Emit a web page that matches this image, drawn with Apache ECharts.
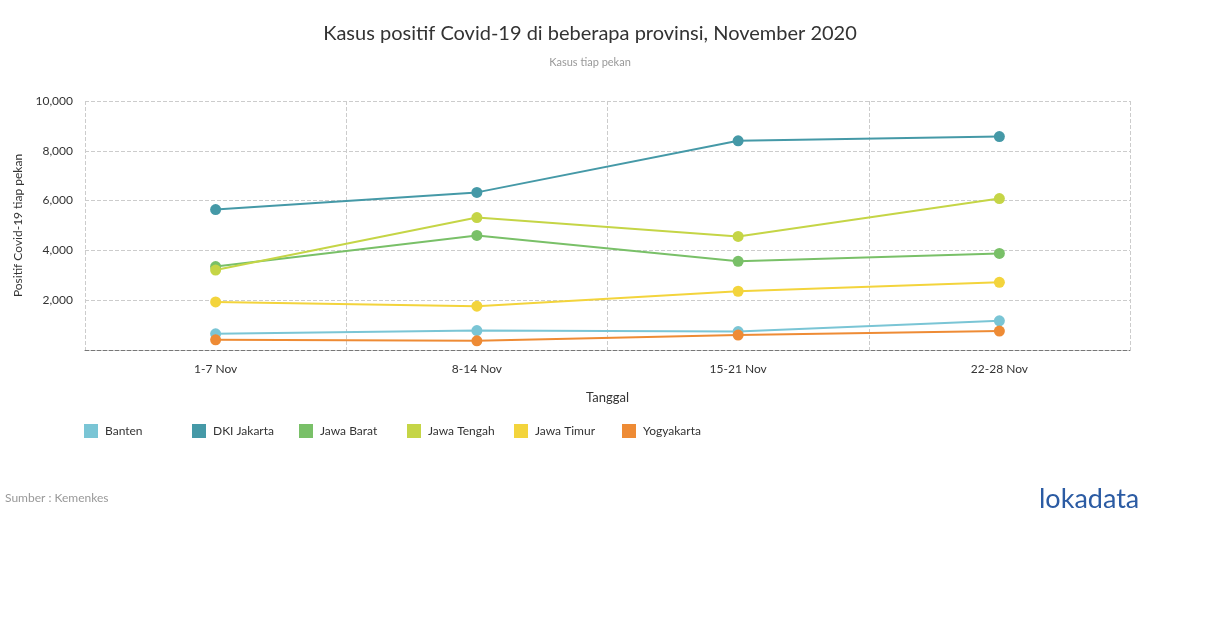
<!DOCTYPE html>
<html><head><meta charset="utf-8">
<script src="https://cdn.jsdelivr.net/npm/echarts@6/dist/echarts.min.js"></script>
<style>html,body{margin:0;padding:0;background:#fff}#c{width:1210px;height:628px}</style>
</head><body><div id="c"></div>
<script>
const categories = ['1-7 Nov', '8-14 Nov', '15-21 Nov', '22-28 Nov'];
const banten = [650, 780, 740, 1170];
const dkiJakarta = [5640, 6330, 8400, 8570];
const jawaBarat = [3350, 4600, 3560, 3880];
const jawaTengah = [3210, 5320, 4560, 6080];
const jawaTimur = [1930, 1760, 2360, 2720];
const yogyakarta = [410, 370, 600, 760];
const seriesNames = ['Banten', 'DKI Jakarta', 'Jawa Barat', 'Jawa Tengah', 'Jawa Timur', 'Yogyakarta'];
const seriesData = [banten, dkiJakarta, jawaBarat, jawaTengah, jawaTimur, yogyakarta];
const colors = ['#7AC5D5', '#4599A7', '#79C068', '#C5D546', '#F3D43C', '#EE8B35'];
const legendLeft = [84, 192, 299, 407, 514, 622];

const font = 'Lato, sans-serif';
const chart = echarts.init(document.getElementById('c'));
chart.setOption({
  animation: false,
  textStyle: { fontFamily: font },
  title: [
    { text: 'Kasus positif Covid-19 di beberapa provinsi, November 2020', left: 590, top: 24, textAlign: 'center', padding: 0,
      textStyle: { fontFamily: font, fontSize: 20, fontWeight: 'normal', color: '#333' } },
    { text: 'Kasus tiap pekan', left: 590, top: 57, textAlign: 'center', padding: 0,
      textStyle: { fontFamily: font, fontSize: 11, fontWeight: 'normal', color: '#999' } }
  ],
  legend: seriesNames.map((n, i) => ({
    data: [n], left: legendLeft[i], top: 424, padding: 0, itemWidth: 14, itemHeight: 14, icon: 'rect', itemGap: 6,
    textStyle: { fontFamily: font, fontSize: 12, color: '#333', padding: [0, 0, 0, 2] }
  })),
  grid: { left: 85, right: 80, top: 101, bottom: 278 },
  xAxis: {
    type: 'category', data: categories, boundaryGap: true,
    name: 'Tanggal', nameLocation: 'middle', nameGap: 41,
    nameTextStyle: { fontFamily: font, fontSize: 13, color: '#333' },
    axisLine: { show: true, lineStyle: { color: '#777', type: 'dashed', width: 1 } },
    axisTick: { show: false },
    axisLabel: { fontFamily: font, fontSize: 12, color: '#333', margin: 13 },
    splitLine: { show: true, lineStyle: { color: '#ccc', type: 'dashed' } }
  },
  yAxis: {
    type: 'value', min: 0, max: 10000, interval: 2000,
    name: 'Positif Covid-19 tiap pekan', nameLocation: 'middle', nameGap: 59, nameRotate: 90,
    nameTextStyle: { fontFamily: font, fontSize: 12, color: '#333' },
    axisLine: { show: false }, axisTick: { show: false },
    axisLabel: { fontFamily: font, fontSize: 12, color: '#333', margin: 12,
      formatter: v => v === 0 ? '' : v.toLocaleString('en-US') },
    splitLine: { show: true, lineStyle: { color: '#ccc', type: 'dashed' } }
  },
  series: seriesNames.map((n, i) => ({
    name: n, type: 'line', data: seriesData[i], color: colors[i],
    symbol: 'circle', symbolSize: 11, lineStyle: { width: 2 }
  })),
  graphic: [
    { type: 'text', left: 5, top: 492, style: { text: 'Sumber : Kemenkes', font: '12px Lato, sans-serif', fill: '#999' } },
    { type: 'text', left: 1039, top: 486, style: { text: 'lokadata', font: '27px Lato, sans-serif', fill: '#2B5BA3' } }
  ]
});
</script></body></html>
